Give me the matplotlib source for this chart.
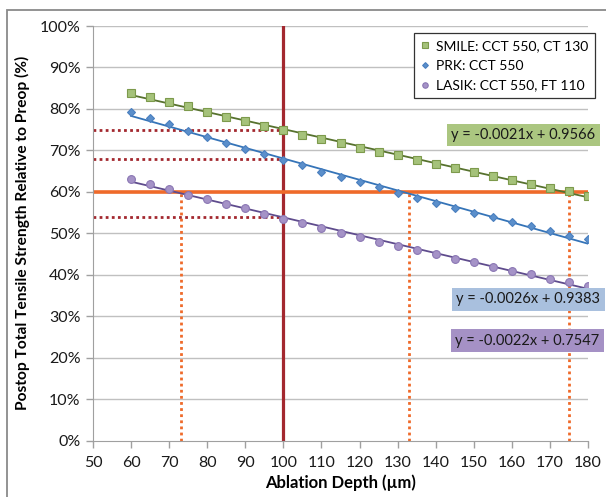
import numpy as np
import matplotlib
matplotlib.use("Agg")
import matplotlib.pyplot as plt
from matplotlib.patches import Rectangle
from matplotlib.ticker import FuncFormatter

plt.rcParams['font.family'] = ['Lato', 'DejaVu Sans']

# ablation depth (um)
depth = [60, 65, 70, 75, 80, 85, 90, 95, 100, 105, 110, 115, 120,
         125, 130, 135, 140, 145, 150, 155, 160, 165, 170, 175, 180]

smile = [0.839, 0.829, 0.816, 0.806, 0.792, 0.781, 0.770, 0.759, 0.749,
         0.738, 0.728, 0.717, 0.707, 0.697, 0.688, 0.677, 0.668, 0.658,
         0.648, 0.639, 0.629, 0.619, 0.610, 0.602, 0.591]
prk = [0.793, 0.778, 0.763, 0.748, 0.732, 0.718, 0.704, 0.691, 0.678,
       0.664, 0.649, 0.635, 0.624, 0.611, 0.598, 0.586, 0.574, 0.562,
       0.550, 0.539, 0.528, 0.517, 0.506, 0.494, 0.486]
lasik = [0.632, 0.619, 0.608, 0.593, 0.584, 0.571, 0.560, 0.546, 0.535,
         0.524, 0.513, 0.501, 0.491, 0.480, 0.470, 0.461, 0.449, 0.439,
         0.430, 0.420, 0.410, 0.402, 0.391, 0.383, 0.373]

labels = ["SMILE: CCT 550, CT 130", "PRK: CCT 550", "LASIK: CCT 550, FT 110"]
equations = ["y = -0.0021x + 0.9566", "y = -0.0026x + 0.9383", "y = -0.0022x + 0.7547"]

# reference lines
threshold = 0.60
depth_ref = 100
ref_levels = [0.75, 0.68, 0.54]
cross_depths = [73, 133, 175]

fig = plt.figure(figsize=(6.06, 4.97), dpi=100)
ax = fig.add_axes([93 / 606, 1 - 440.7 / 497, 495 / 606, 414.7 / 497])

grid_c = "#c0c0c0"
for v in np.arange(0.1, 1.01, 0.1):
    ax.axhline(v, color=grid_c, lw=1.0, zorder=0)

dark_red = "#a3282f"
orange = "#ef6a2a"

ax.plot([depth_ref, depth_ref], [0, 1], color=dark_red, lw=2.3, zorder=2)
ax.plot([50, 180], [threshold, threshold], color=orange, lw=2.6, zorder=2)
for lv in ref_levels:
    ax.plot([50, depth_ref], [lv, lv], color=dark_red, lw=2.0,
            linestyle=(0, (1, 1.2)), zorder=2)
for d in cross_depths:
    ax.plot([d, d], [0, threshold], color=orange, lw=2.0,
            linestyle=(0, (1, 1.2)), zorder=2)

series = [
    (smile, "s", "#a5c27a", "#7d9a4c", "#57722e"),
    (prk, "D", "#5b8fcb", "#4a7fbf", "#3574b8"),
    (lasik, "o", "#a593c7", "#8a76b3", "#5f4c8d"),
]
x = np.array(depth)
for (vals, mk, fc, ec, lc), lab in zip(series, labels):
    k, b = np.polyfit(x, vals, 1)
    ax.plot(x, k * x + b, color=lc, lw=1.3, zorder=3)
    ms = 5.6 if mk != "D" else 4.2
    ax.plot(x, vals, linestyle="none", marker=mk, ms=ms, mfc=fc, mec=ec,
            mew=0.8, zorder=4, label=lab)

ax.set_xlim(50, 180)
ax.set_ylim(0, 1)
ax.set_xticks(range(50, 181, 10))
ax.set_yticks(np.arange(0, 1.01, 0.1))
ax.yaxis.set_major_formatter(FuncFormatter(lambda v, p: f"{v * 100:.0f}%"))
ax.tick_params(axis="both", colors="#a0a0a0", labelcolor="#1a1a1a",
               labelsize=11.5, length=5, width=1)
ax.tick_params(axis="x", pad=6)
ax.tick_params(axis="y", pad=4)
for s in ["top", "right"]:
    ax.spines[s].set_visible(False)
for s in ["left", "bottom"]:
    ax.spines[s].set_color("#a0a0a0")

ax.set_xlabel("Ablation Depth (\u00b5m)", fontsize=12, fontweight="bold", labelpad=3)
fig.text(22 / 606, 1 - 233 / 497,
         "Postop Total Tensile Strength Relative to Preop (%)",
         rotation=90, ha="center", va="center", fontsize=11.2, fontweight="bold")

leg = ax.legend(loc="upper right", bbox_to_anchor=(595 / 606, 1 - 33.3 / 497),
                bbox_transform=fig.transFigure, borderaxespad=0, fancybox=False,
                framealpha=1, edgecolor="#333333", fontsize=10, markerscale=0.7,
                handlelength=0.6, handletextpad=0.5, labelspacing=0.55,
                borderpad=0.5)
leg.get_frame().set_linewidth(0.9)
leg.set_zorder(6)

eq_pos = [(163.0, 0.737), (164.3, 0.341), (164.0, 0.241)]
eq_bg = ["#abc680", "#a9c0de", "#a591c5"]
for (ex, ey), txt, bg in zip(eq_pos, equations, eq_bg):
    ax.text(ex, ey, txt, ha="center", va="center", fontsize=10.5, zorder=7,
            color="#1a1a1a",
            bbox=dict(boxstyle="square,pad=0.3", fc=bg, ec="none"))

fig.patches.append(Rectangle((7 / 606, -0.05), 1.2, 1.05 - 10 / 497,
                             transform=fig.transFigure, fill=False,
                             ec="#8a8a8a", lw=1.3, zorder=10))

fig.savefig("out.png", dpi=100)
